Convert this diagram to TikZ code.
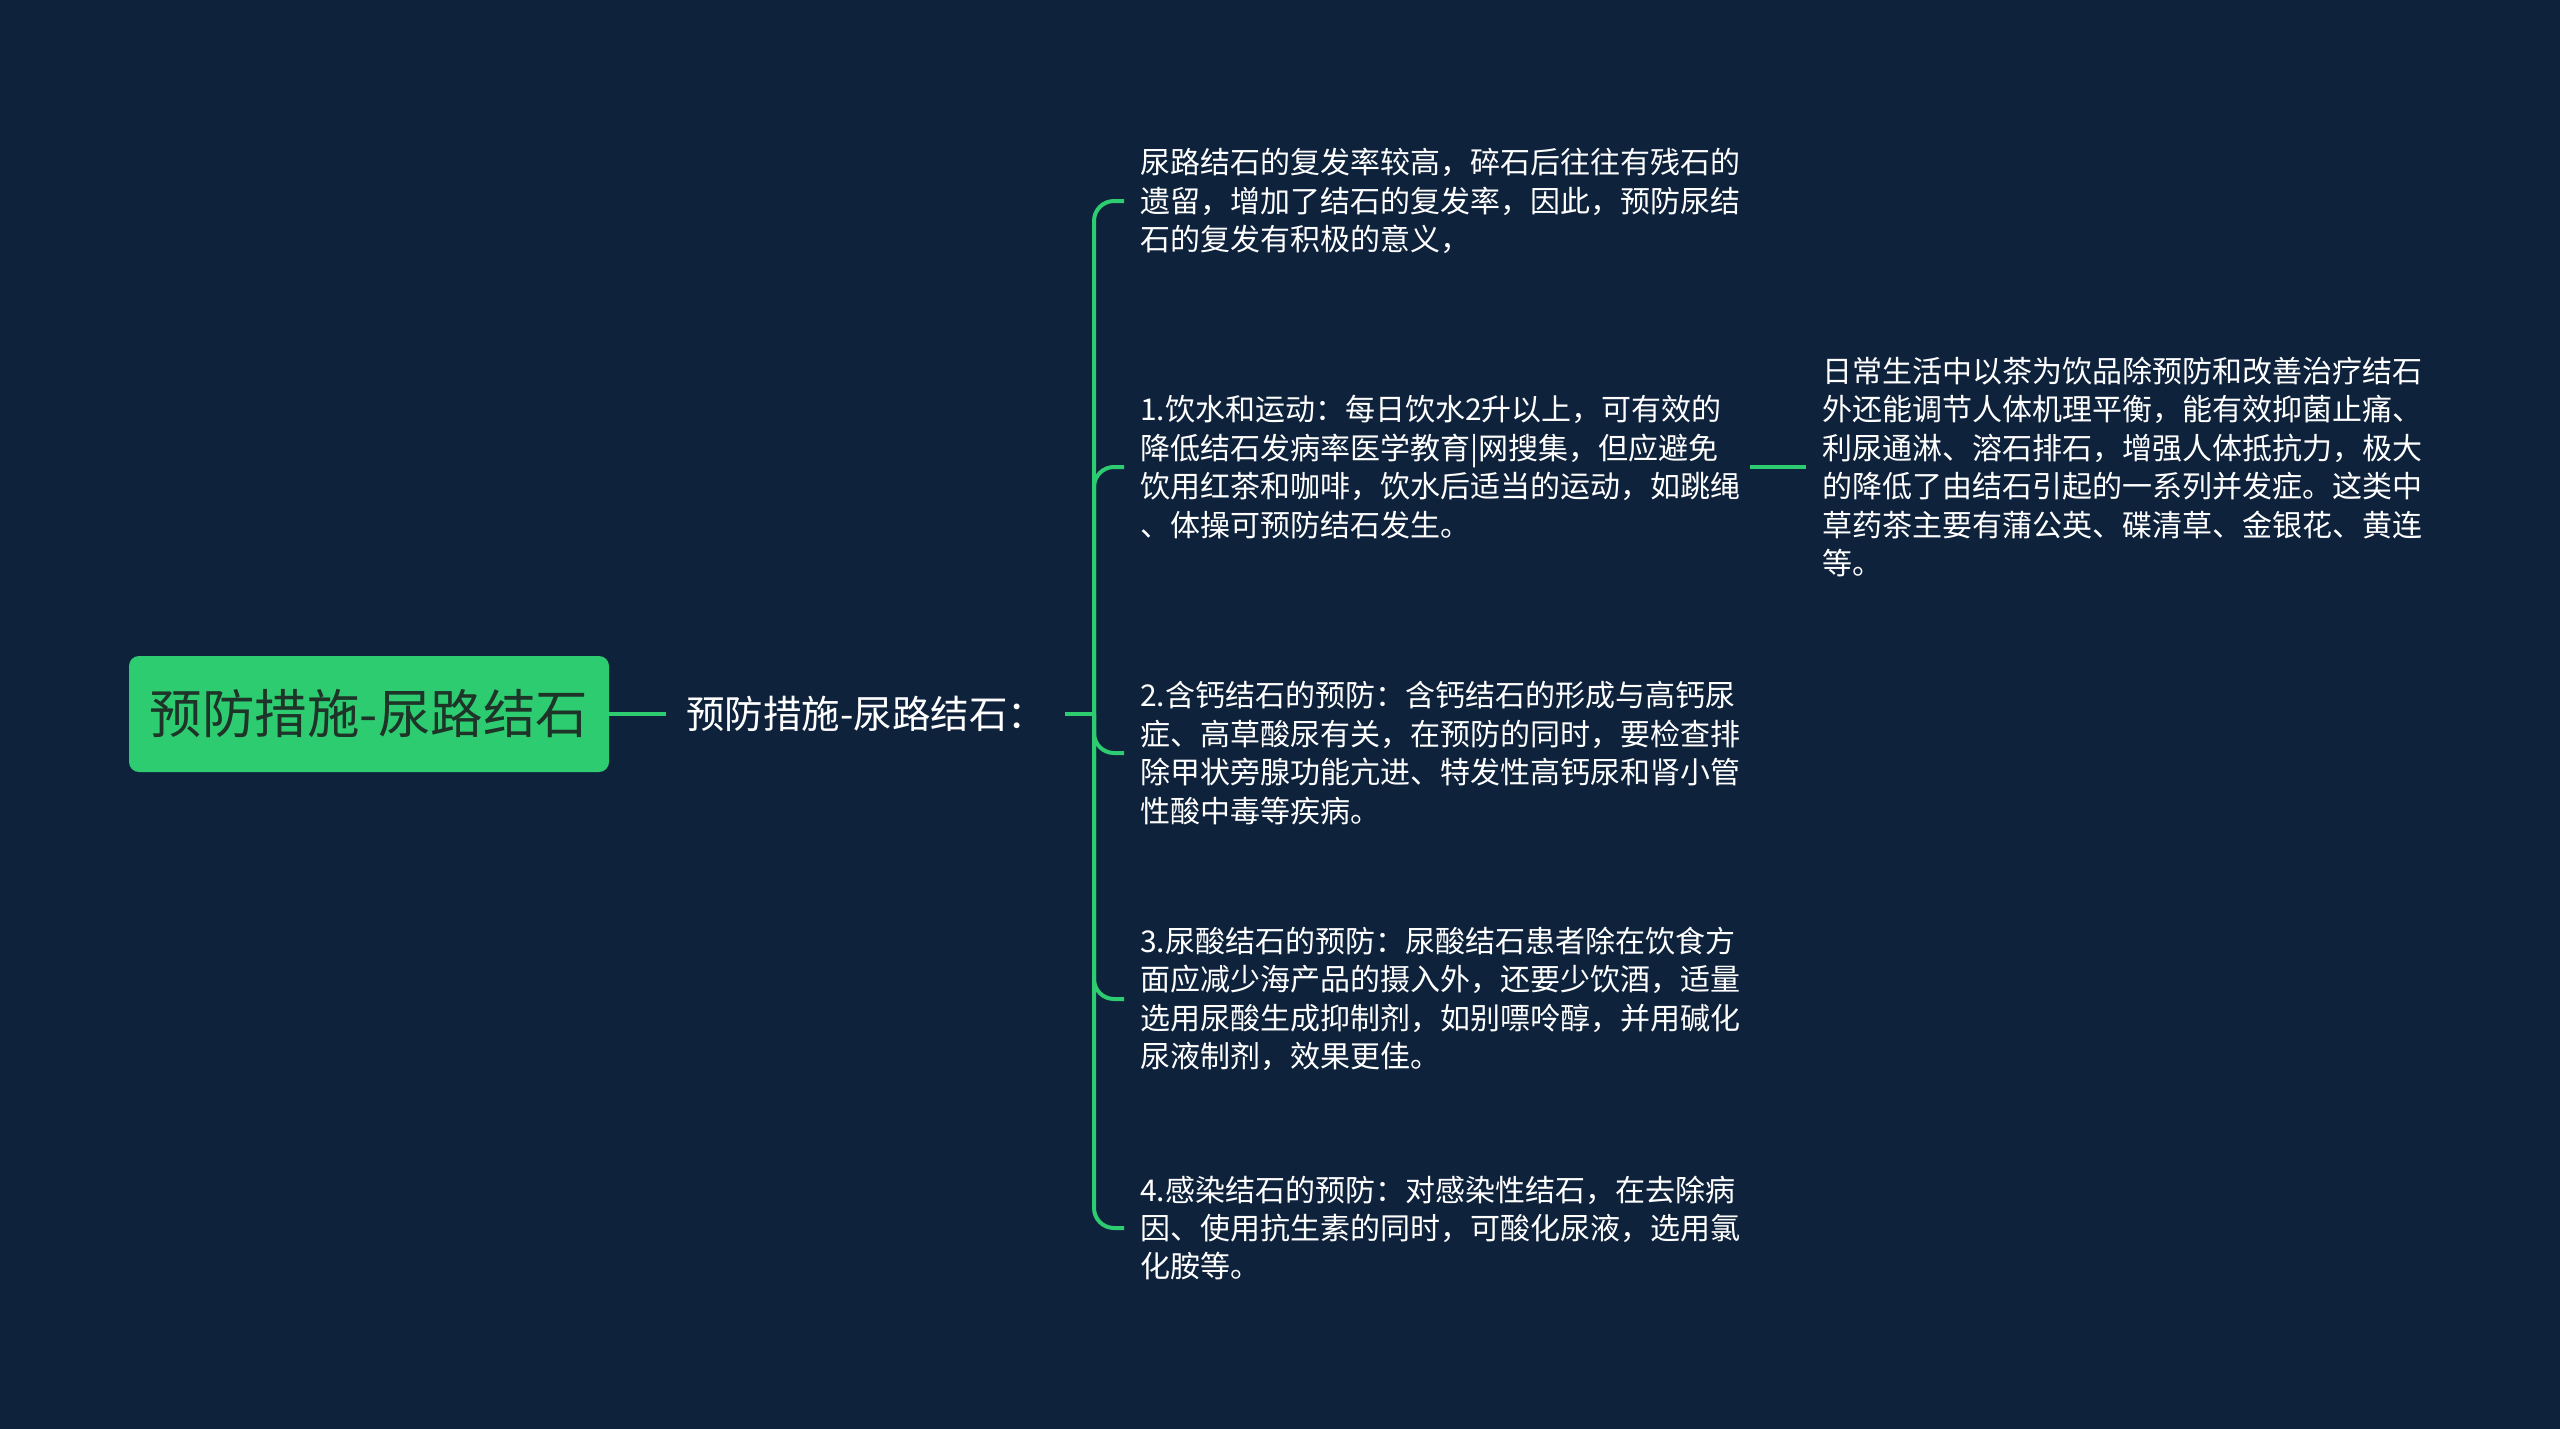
\documentclass[tikz,border=0pt]{standalone}
\usepackage{fontspec}
\setmainfont{Noto Sans CJK SC}
\definecolor{bg}{RGB}{14,34,60}
\definecolor{lg}{RGB}{46,204,113}
\definecolor{rootfg}{RGB}{30,52,40}
\begin{document}
\begin{tikzpicture}[x=1pt,y=-1pt,
  conn/.style={draw=lg, line width=4pt},
  leaf/.style={anchor=west, inner xsep=16pt, inner ysep=0pt, text width=600pt, align=left, text=white, font=\fontsize{30}{38.4}\selectfont},
]
\fill[bg] (0,0) rectangle (2560,1429);
\useasboundingbox (0,0) rectangle (2560,1429);

\node[fill=lg, rounded corners=10pt, minimum width=480pt, minimum height=116pt, inner sep=0pt, text=rootfg, font=\fontsize{52.5}{62}\selectfont] (root) at (369,714) {预防措施-尿路结石};

\node[anchor=west, inner xsep=20pt, inner ysep=0pt, text=white, font=\fontsize{38.5}{46}\selectfont] (n2) at (666,714) {预防措施-尿路结石：};

\coordinate (tr) at (1094,714);

\node[leaf] (b0) at (1124,201) {尿路结石的复发率较高，碎石后往往有残石的\\遗留，增加了结石的复发率，因此，预防尿结\\石的复发有积极的意义，};
\node[leaf] (b1) at (1124,467) {1.饮水和运动：每日饮水2升以上，可有效的\\降低结石发病率医学教育|网搜集，但应避免\\饮用红茶和咖啡，饮水后适当的运动，如跳绳\\、体操可预防结石发生。};
\node[leaf] (b2) at (1124,753) {2.含钙结石的预防：含钙结石的形成与高钙尿\\症、高草酸尿有关，在预防的同时，要检查排\\除甲状旁腺功能亢进、特发性高钙尿和肾小管\\性酸中毒等疾病。};
\node[leaf] (b3) at (1124,999) {3.尿酸结石的预防：尿酸结石患者除在饮食方\\面应减少海产品的摄入外，还要少饮酒，适量\\选用尿酸生成抑制剂，如别嘌呤醇，并用碱化\\尿液制剂，效果更佳。};
\node[leaf] (b4) at (1124,1228) {4.感染结石的预防：对感染性结石，在去除病\\因、使用抗生素的同时，可酸化尿液，选用氯\\化胺等。};

\node[leaf] (r) at (1806,467) {日常生活中以茶为饮品除预防和改善治疗结石\\外还能调节人体机理平衡，能有效抑菌止痛、\\利尿通淋、溶石排石，增强人体抵抗力，极大\\的降低了由结石引起的一系列并发症。这类中\\草药茶主要有蒲公英、碟清草、金银花、黄连\\等。};

\draw[conn] (root.east) -- (n2.west);
\draw[conn] (1065,714) -- (tr);
\foreach \b in {b0,b1,b2,b3,b4}{
  \draw[conn, rounded corners=20pt] (tr) |- (\b.west);
}
\draw[conn] ([xshift=-6pt]b1.east) -- (r.west);
\end{tikzpicture}
\end{document}
